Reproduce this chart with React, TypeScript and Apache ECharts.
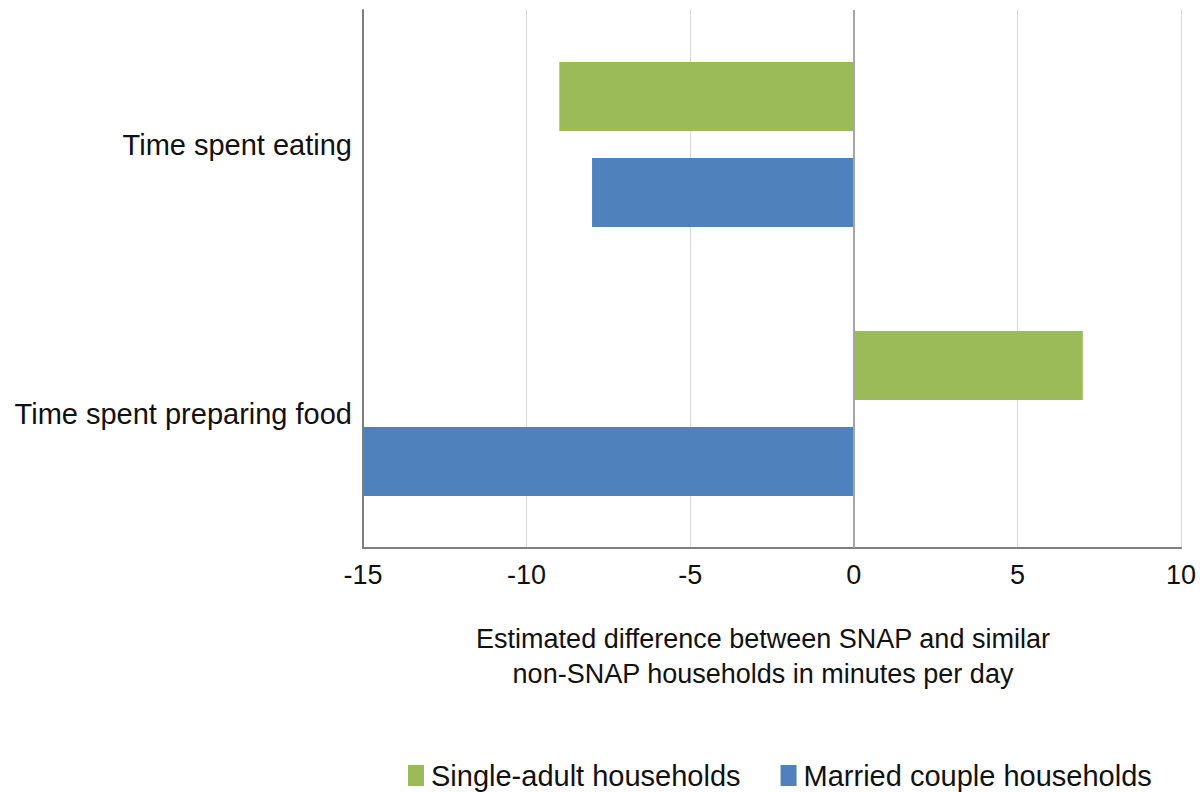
import React, { useEffect, useRef } from "react";
import * as echarts from "echarts";

const categories = ["Time spent eating", "Time spent preparing food"];
const singleAdult = [-9, 7];
const marriedCouple = [-8, -15];
const seriesNames = ["Single-adult households", "Married couple households"];
const axisTitle = "Estimated difference between SNAP and similar\nnon-SNAP households in minutes per day";
const FONT = "'Liberation Sans', Arial, Helvetica, sans-serif";

export default function App() {
  const ref = useRef<HTMLDivElement>(null);
  useEffect(() => {
    const chart = echarts.init(ref.current!, null, { renderer: "svg" });
    chart.setOption({
      animation: false,
      textStyle: { fontFamily: FONT },
      grid: { left: 363, right: 21, top: 10, bottom: 244, containLabel: false },
      legend: {
        left: 408,
        top: 761,
        padding: 0,
        itemWidth: 16,
        itemHeight: 21,
        itemGap: 40,
        icon: "rect",
        textStyle: { fontSize: 29, color: "#111", fontFamily: FONT, padding: [0, 0, 0, 2] },
        data: seriesNames,
      },
      xAxis: {
        type: "value",
        min: -15,
        max: 10,
        interval: 5,
        axisLine: { show: true, onZero: false, lineStyle: { color: "#7f7f7f", width: 2 } },
        axisTick: { show: false },
        axisLabel: { fontSize: 27, color: "#111", margin: 13, fontFamily: FONT },
        splitLine: { show: true, lineStyle: { color: "#d9d9d9", width: 1 } },
        name: axisTitle,
        nameLocation: "middle",
        nameGap: 73,
        nameTextStyle: { fontSize: 27, color: "#111", lineHeight: 35, fontFamily: FONT, padding: [0, 18, 0, 0] },
      },
      yAxis: {
        type: "category",
        data: categories,
        inverse: true,
        axisLine: { show: true, onZero: false, lineStyle: { color: "#7f7f7f", width: 2 } },
        axisTick: { show: false },
        axisLabel: { fontSize: 29, color: "#111", margin: 11, fontFamily: FONT },
        splitLine: { show: false },
      },
      series: [
        {
          name: seriesNames[0],
          type: "bar",
          data: singleAdult,
          barWidth: 69,
          barGap: "39%",
          itemStyle: { color: "#9BBB59" },
          markLine: {
            silent: true,
            symbol: "none",
            label: { show: false },
            lineStyle: { color: "#a6a6a6", type: "solid", width: 2 },
            data: [{ xAxis: 0 }],
          },
        },
        {
          name: seriesNames[1],
          type: "bar",
          data: marriedCouple,
          barWidth: 69,
          barGap: "39%",
          itemStyle: { color: "#4F81BD" },
        },
      ],
    });
    return () => chart.dispose();
  }, []);
  return <div ref={ref} style={{ width: 1202, height: 792, position: "absolute", left: 0, top: 0 }} />;
}
